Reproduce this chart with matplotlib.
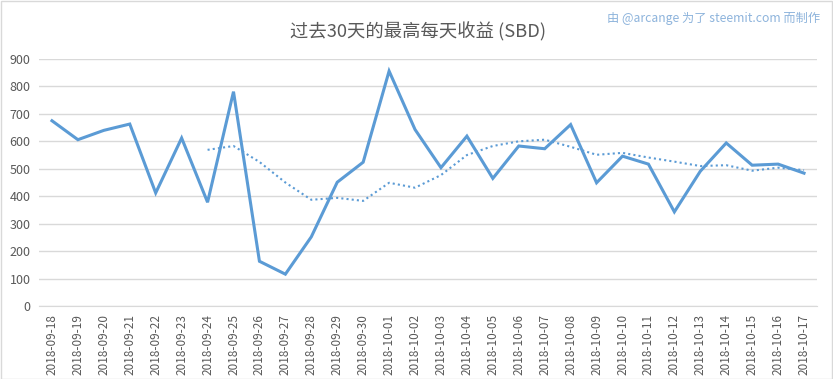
import matplotlib
matplotlib.use("Agg")
import matplotlib.pyplot as plt
from matplotlib.patches import Rectangle

plt.rcParams['font.family'] = ['Noto Sans CJK SC', 'DejaVu Sans']

dates = ["2018-09-18", "2018-09-19", "2018-09-20", "2018-09-21", "2018-09-22",
         "2018-09-23", "2018-09-24", "2018-09-25", "2018-09-26", "2018-09-27",
         "2018-09-28", "2018-09-29", "2018-09-30", "2018-10-01", "2018-10-02",
         "2018-10-03", "2018-10-04", "2018-10-05", "2018-10-06", "2018-10-07",
         "2018-10-08", "2018-10-09", "2018-10-10", "2018-10-11", "2018-10-12",
         "2018-10-13", "2018-10-14", "2018-10-15", "2018-10-16", "2018-10-17"]

daily_max = [675, 606, 640, 663, 412, 612, 378, 781, 163, 116,
             252, 451, 524, 856, 643, 504, 619, 465, 583, 573,
             661, 449, 546, 517, 343, 491, 594, 513, 517, 484]

# 7-day moving average trendline, starting at 2018-09-24
trend_start = 6
trend = [569, 583, 525, 450, 387, 394, 383, 449, 431, 477,
         550, 583, 600, 606, 580, 551, 558, 541, 526, 510,
         513, 493, 504, 495]

yticks = [0, 100, 200, 300, 400, 500, 600, 700, 800, 900]

title = "过去30天的最高每天收益 (SBD)"
credit = "由 @arcange 为了 steemit.com 而制作"

W, H = 833, 379
fig = plt.figure(figsize=(W / 100, H / 100), dpi=100)
ax = fig.add_axes([39 / W, 1 - 306 / H, (817 - 39) / W, (306 - 59) / H])

color = "#5b9bd5"
x = list(range(len(dates)))
ax.plot(x, daily_max, color=color, lw=2.2, solid_joinstyle="miter", zorder=3)
ax.plot(x[trend_start:trend_start + len(trend)], trend, color=color, lw=1.5,
        linestyle=(0, (1, 1.5)), zorder=3)

ax.set_xlim(-0.5, len(dates) - 0.5)
ax.set_ylim(0, 900)
ax.set_yticks(yticks)
ax.set_yticklabels([str(v) for v in yticks], fontsize=9, color="#595959")
ax.yaxis.grid(True, color="#d9d9d9", lw=1)
ax.set_axisbelow(True)
ax.set_xticks(x)
ax.set_xticklabels(dates, rotation=90, fontsize=8.5, color="#595959")
ax.tick_params(axis="both", length=0, pad=6)
for s in ["top", "right", "left"]:
    ax.spines[s].set_visible(False)
ax.spines["bottom"].set_color("#d9d9d9")

fig.text(418 / W, 1 - 32 / H, title, ha="center", va="center", fontsize=13.2,
         color="#595959")
fig.text(820 / W, 1 - 18 / H, credit, ha="right", va="center", fontsize=8.8,
         color="#8eb4dc")

fig.patches.append(Rectangle((0.5 / W, 0.5 / H), 1 - 1.5 / W, 1 - 1.5 / H,
                             transform=fig.transFigure, fill=False,
                             edgecolor="#d9d9d9", lw=1))

fig.savefig("out.png", dpi=100)
